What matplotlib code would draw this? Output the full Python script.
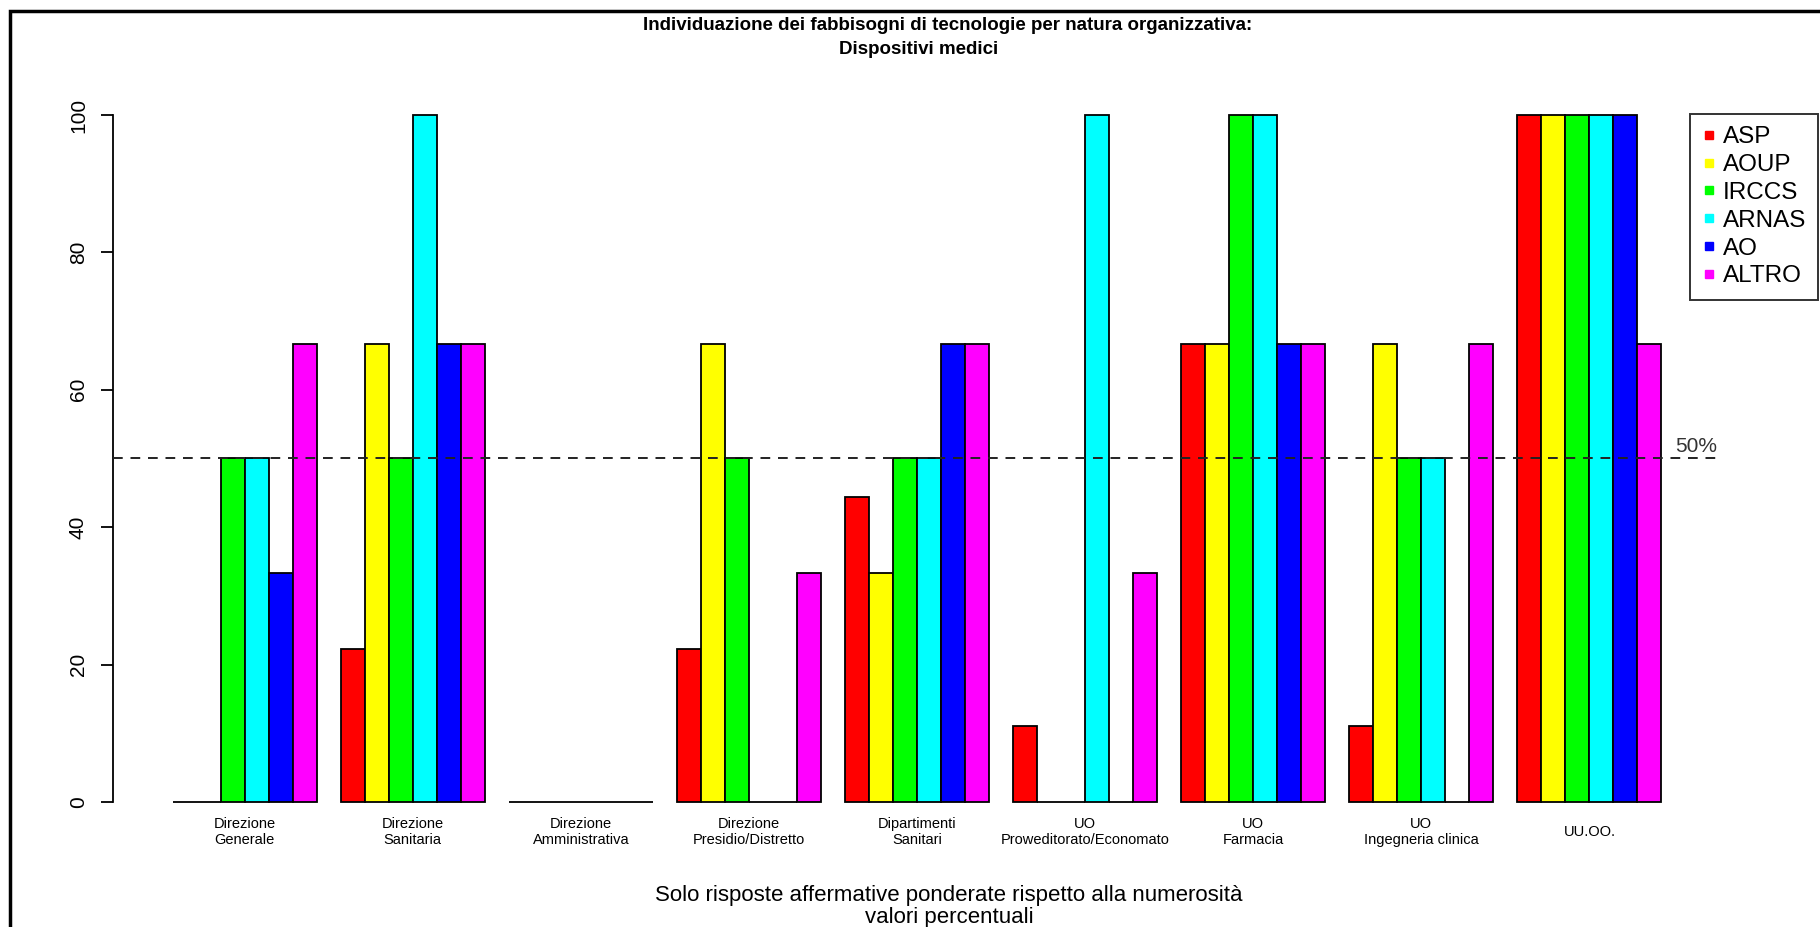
import matplotlib
matplotlib.use("Agg")
import matplotlib.pyplot as plt
from matplotlib.lines import Line2D
from matplotlib.patches import Rectangle
from matplotlib.transforms import blended_transform_factory

# === Data ===
groups = [
    "Direzione\nGenerale", "Direzione\nSanitaria", "Direzione\nAmministrativa",
    "Direzione\nPresidio/Distretto", "Dipartimenti\nSanitari",
    "UO\nProweditorato/Economato", "UO\nFarmacia", "UO\nIngegneria clinica", "UU.OO.",
]
series = ["ASP", "AOUP", "IRCCS", "ARNAS", "AO", "ALTRO"]
colors = ["#FF0000", "#FFFF00", "#00FF00", "#00FFFF", "#0000FF", "#FF00FF"]

asp   = [0, 22.2, 0, 22.2, 44.4, 11.1, 66.7, 11.1, 100]
aoup  = [0, 66.7, 0, 66.7, 33.3, 0, 66.7, 66.7, 100]
irccs = [50, 50, 0, 50, 50, 0, 100, 50, 100]
arnas = [50, 100, 0, 0, 50, 100, 100, 50, 100]
ao    = [33.3, 66.7, 0, 0, 66.7, 0, 66.7, 0, 100]
altro = [66.7, 66.7, 0, 33.3, 66.7, 33.3, 66.7, 66.7, 66.7]
values = [asp, aoup, irccs, arnas, ao, altro]

threshold = 50

W, H = 1820, 927
plt.rcParams["font.family"] = ["Liberation Sans", "DejaVu Sans"]

fig = plt.figure(figsize=(W / 100, H / 100), dpi=100)

# plot region in pixels (R barplot style)
left, right, top, bottom = 113, 1721, 87.5, 829.5
ax = fig.add_axes([left / W, (H - bottom) / H, (right - left) / W, (bottom - top) / H])

for s in range(len(series)):
    xs = [1 + 7 * g + s for g in range(len(groups))]
    ax.bar(xs, values[s], width=1, align="edge", color=colors[s],
           edgecolor="black", linewidth=1.3, zorder=2)

ax.set_xlim(-1.48, 65.48)
ax.set_ylim(-4, 104)

for sp in ["top", "right", "bottom"]:
    ax.spines[sp].set_visible(False)
ax.spines["left"].set_bounds(0, 100)
ax.spines["left"].set_linewidth(1.3)
ax.set_xticks([])
ax.set_yticks([0, 20, 40, 60, 80, 100])
ax.set_yticklabels(["0", "20", "40", "60", "80", "100"], rotation=90, va="center", fontsize=15)
ax.tick_params(axis="y", length=9, width=1.3, pad=9)

ax.axhline(threshold, color="#222222", linewidth=1.4, linestyle=(0, (5, 4)), zorder=3)
fig.text(1675 / W, 1 - 446 / H, "50%", fontsize=15, ha="left", va="center", color="#333333")

# group labels
tr = blended_transform_factory(ax.transData, fig.transFigure)
for g, name in enumerate(groups):
    fig.text(1 + 7 * g + 3, 1 - 832 / H, name, transform=tr, ha="center", va="center",
             fontsize=10.5, linespacing=1.25)

# titles
fig.text(948 / W, 1 - 25 / H, "Individuazione dei fabbisogni di tecnologie per natura organizzativa:",
         ha="center", va="center", fontsize=13.5, fontweight="bold")
fig.text(919 / W, 1 - 50 / H, "Dispositivi medici",
         ha="center", va="center", fontsize=13.5, fontweight="bold")
fig.text(949 / W, 1 - 895 / H, "Solo risposte affermative ponderate rispetto alla numerosità",
         ha="center", va="center", fontsize=16)
fig.text(949 / W, 1 - 918 / H, "valori percentuali",
         ha="center", va="center", fontsize=16)

# legend
handles = [Line2D([], [], marker="s", linestyle="none", markersize=6,
                  markerfacecolor=c, markeredgecolor=c) for c in colors]
leg = fig.legend(handles, series, loc="upper left", bbox_to_anchor=(1690 / W, 1 - 114 / H),
                 fontsize=17.5, frameon=True, fancybox=False, labelspacing=0.24,
                 borderpad=0.5, handlelength=0.6, handletextpad=0.25, borderaxespad=0)
leg.get_frame().set_edgecolor("black")
leg.get_frame().set_linewidth(1.4)

# outer frame (left and top visible)
fig.patches.append(Rectangle((10 / W, -0.1), 1.2, 1 - 11 / H + 0.1, transform=fig.transFigure,
                             fill=False, edgecolor="black", linewidth=2.5))

fig.savefig("out.png", dpi=100)
